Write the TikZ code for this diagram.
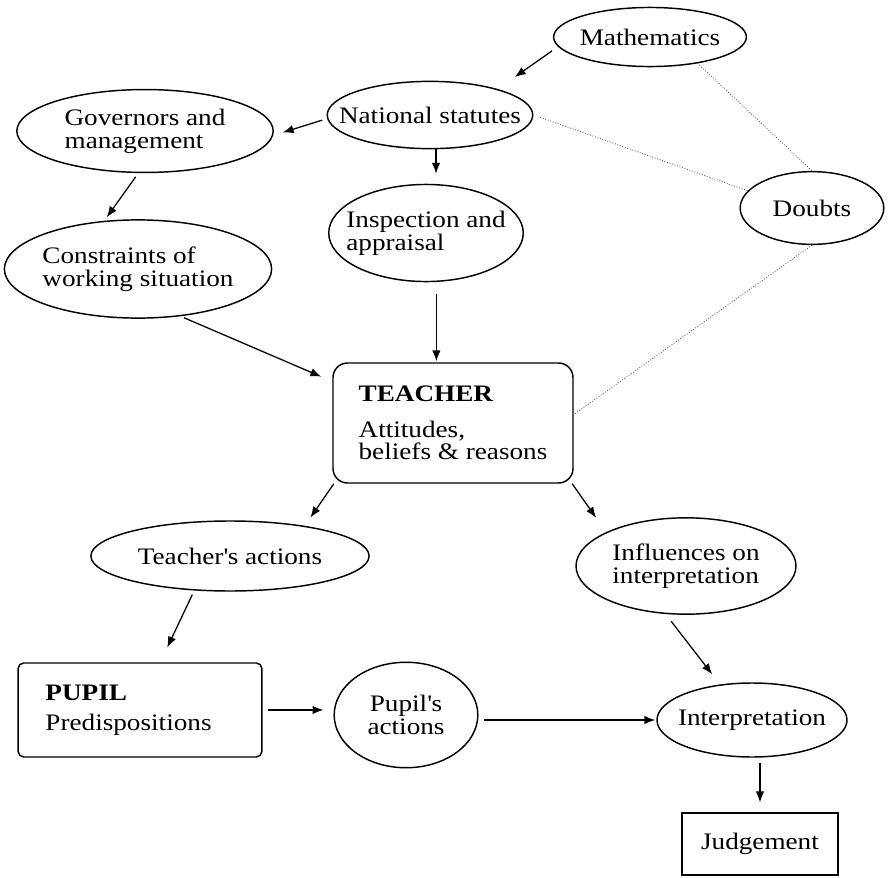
\documentclass[tikz,border=0pt]{standalone}
\usepackage{fontspec}
\setmainfont[FakeStretch=1.15]{Liberation Serif}
\usetikzlibrary{shapes.geometric,arrows.meta}

\begin{document}
\begin{tikzpicture}[x=0.55pt,y=-0.55pt,font=\fontsize{13}{12.5}\selectfont]
    \tikzstyle{oval}=[draw,ellipse,line width=0.8pt,inner xsep=-15pt,inner ysep=-3pt,align=left]
    \tikzstyle{box}=[draw,rectangle,line width=0.8pt,align=left]
    \tikzstyle{arr}=[-{Latex[length=6pt,width=4.6pt]},line width=0.7pt]
    \tikzstyle{doubt}=[densely dotted,line width=0.45pt,black!70]
    \useasboundingbox (0,0) rectangle (889,878);
    \node[oval,minimum width=106pt,minimum height=32.5pt] (math) at (650,37) {Mathematics};
    \node[oval,minimum width=113pt,minimum height=37pt] (natl) at (430,115) {National statutes};
    \node[oval,minimum width=141pt,minimum height=45.6pt] (gov) at (145,131) {Governors and\\ management};
    \node[oval,minimum width=107pt,minimum height=53.4pt] (insp) at (426,233) {Inspection and\\ appraisal};
    \node[oval,minimum width=79pt,minimum height=40pt] (doubts) at (812,208) {Doubts};
    \node[oval,minimum width=147pt,minimum height=54pt] (constr) at (138,269) {Constraints of\\ working situation};
    \node[box,rounded corners=8pt,minimum width=132pt,minimum height=66pt] (teacher) at (453,423)
        {\textbf{TEACHER}\\[7pt] Attitudes,\\ beliefs \& reasons};
    \node[oval,minimum width=153pt,minimum height=38.5pt] (tact) at (230,556) {Teacher\textquotesingle s actions};
    \node[oval,minimum width=121pt,minimum height=53pt] (infl) at (686,566) {Influences on\\ interpretation};
    \node[box,rounded corners=3pt,inner xsep=15pt,text width=104pt,minimum height=51.7pt] (pupil) at (140,710)
        {\textbf{PUPIL}\\[4pt] Predispositions};
    \node[oval,align=center,minimum width=79pt,minimum height=58pt] (pact) at (406,715) {Pupil\textquotesingle s\\ actions};
    \node[oval,minimum width=104.5pt,minimum height=40.7pt] (interp) at (752,720) {Interpretation};
    \node[box,minimum width=86pt,minimum height=34pt] (judg) at (760,844) {Judgement};
    \draw[arr,shorten <=4pt,shorten >=11.5pt] (math.186) -- (natl.21);
    \draw[arr,shorten <=2.8pt,shorten >=5.5pt] (natl.182) -- (gov.358);
    \draw[arr,shorten >=5.5pt] (natl.280) -- (natl.280 |- insp.north);
    \draw[arr,shorten <=2.5pt,shorten >=2.4pt] (gov.261) -- (constr.125);
    \draw[arr,shorten <=6.5pt,shorten >=0.5pt] (insp.282) -- (insp.282 |- teacher.north);
    \draw[arr,shorten <=2pt,shorten >=6.6pt] (constr.312) -- (teacher.161);
    \draw[arr,shorten >=5.5pt] (teacher.207) -- (tact.22);
    \draw[arr,shorten >=9.6pt] (teacher.333) -- (infl.157);
    \draw[arr,shorten <=2.5pt,shorten >=9pt] (tact.224) -- (pupil.67);
    \draw[arr,shorten <=5pt,shorten >=7pt] (infl.247) -- (interp.132);
    \draw[arr,shorten <=2.75pt,shorten >=5.5pt] (pupil.east) -- (pupil.east -| pact.west);
    \draw[arr,shorten <=3pt,shorten >=0.5pt] (interp.west -| pact.east) -- (interp.west);
    \draw[arr,shorten <=2.75pt,shorten >=5.5pt] (judg.north |- interp.south) -- (judg.north);
    \draw[doubt] (math.331) -- (doubts.north);
    \draw[doubt,shorten <=4pt] (natl.east) -- (doubts.165);
    \draw[doubt] (doubts.south) -- (teacher.4);
\end{tikzpicture}
\end{document}
